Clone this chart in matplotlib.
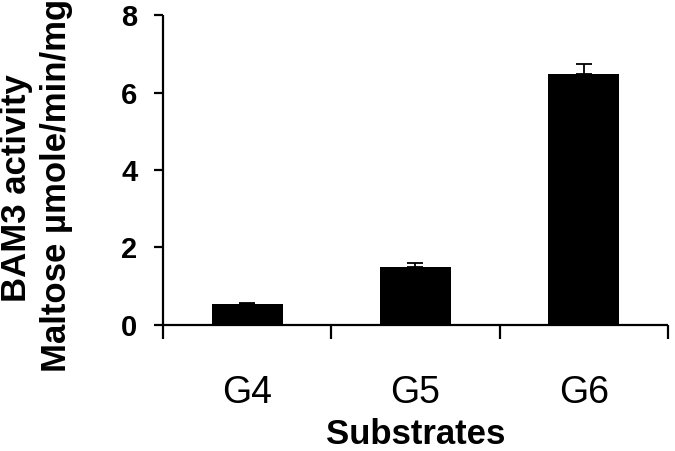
import numpy as np
import matplotlib.pyplot as plt
from matplotlib.ticker import FixedLocator

plt.rcParams['font.family'] = ['Liberation Sans', 'DejaVu Sans']

# valeurs
substrates = ['G4', 'G5', 'G6']
activity = [0.54, 1.50, 6.48]
err_up = [0.02, 0.10, 0.26]
yticks = [0, 2, 4, 6, 8]

fig = plt.figure(figsize=(6.75, 4.51), dpi=100)
ax = fig.add_axes([0.2415, 0.2794, 0.7481, 0.6873])

x = np.arange(len(substrates))
ax.bar(x, activity, width=0.42, color='black', zorder=2)
ax.errorbar(x, activity, yerr=[np.zeros(len(err_up)), err_up], fmt='none',
            ecolor='black', elinewidth=1.3, capsize=5.5, capthick=1.3, zorder=3)

ax.set_xlim(-0.5, 2.5)
ax.set_ylim(0, 8)
ax.set_yticks(yticks)
ax.set_xticks(x)
ax.set_xticklabels(substrates, fontsize=27)
ax.xaxis.set_minor_locator(FixedLocator([-0.5, 0.5, 1.5, 2.5]))

for s in ['top', 'right']:
    ax.spines[s].set_visible(False)
for s in ['left', 'bottom']:
    ax.spines[s].set_linewidth(1.6)
    ax.spines[s].set_capstyle('butt')

ax.tick_params(axis='y', direction='out', length=6.5, width=1.6, pad=12,
               labelsize=21)
for lab in ax.get_yticklabels():
    lab.set_fontweight('bold')
ax.tick_params(axis='x', which='major', length=0, pad=36)
ax.tick_params(axis='x', which='minor', direction='out', length=10, width=1.6)

ax.set_xlabel('Substrates', fontsize=25, fontweight='bold', labelpad=5)

fig.text(0.024, 0.583, 'BAM3 activity', rotation=90, fontsize=25,
         fontweight='bold', ha='center', va='center')
fig.text(0.083, 0.588, 'Maltose µmole/min/mg', rotation=90, fontsize=25,
         fontweight='bold', ha='center', va='center')

plt.savefig('out.png', dpi=100)
